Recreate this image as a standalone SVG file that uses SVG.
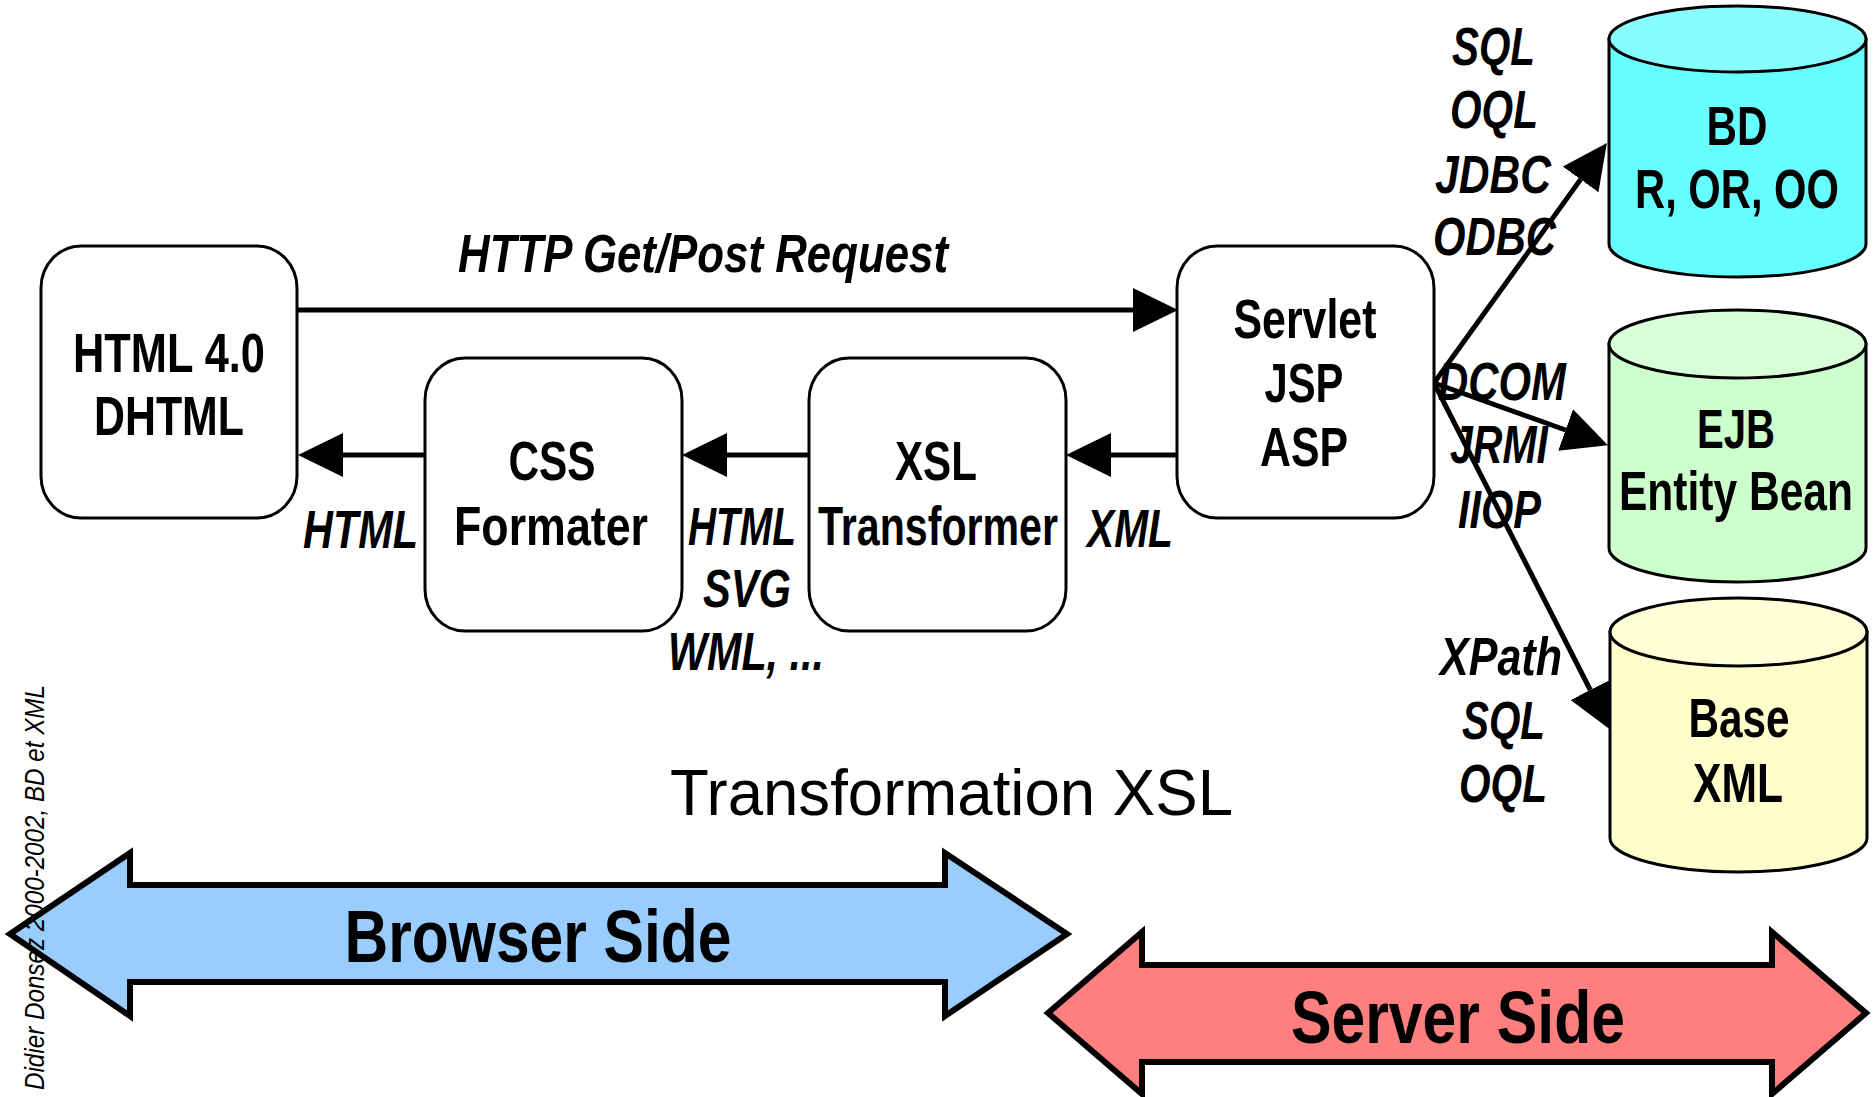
<svg xmlns="http://www.w3.org/2000/svg" width="1874" height="1097" viewBox="0 0 1874 1097">
<style>
.box{fill:#fff;stroke:#000;stroke-width:3}
.conn{stroke:#000;stroke-width:5;fill:none}
.cyl{stroke:#000;stroke-width:3}
.big{stroke:#000;stroke-width:6;stroke-linejoin:miter}
.node{font-family:'Liberation Sans Narrow','Arial Narrow','Liberation Sans',Arial,sans-serif;font-weight:bold;font-size:56px;text-anchor:middle;fill:#000}
.lbl{font-family:'Liberation Sans Narrow','Arial Narrow','Liberation Sans',Arial,sans-serif;font-weight:bold;font-style:italic;font-size:54px;fill:#000}
.side{font-family:'Liberation Sans Narrow','Arial Narrow','Liberation Sans',Arial,sans-serif;font-weight:bold;font-size:75px;text-anchor:middle;fill:#000}
.title{font-family:'Liberation Sans',Arial,sans-serif;font-size:64px;fill:#000}
.copy{font-family:'Liberation Sans',Arial,sans-serif;font-style:italic;font-size:28px;fill:#000}
</style>
<defs>
<marker id="ah" markerUnits="userSpaceOnUse" viewBox="0 0 45 44" markerWidth="45" markerHeight="44" refX="0" refY="22" orient="auto"><path d="M0,0 L45,22 L0,44 Z" fill="#000"/></marker>
</defs>

<g id="browser-side">
<polygon class="big" fill="#99CCFF" points="10,934 130,853 130,885 945,885 945,853 1067,934 945,1016 945,982 130,982 130,1016"/>
<text class="side" x="538" y="962" textLength="387" lengthAdjust="spacingAndGlyphs">Browser Side</text>
</g>
<g id="server-side">
<polygon class="big" fill="#FF7F7F" points="1048,1013 1142,932 1142,965 1772,965 1772,932 1866,1013 1772,1094 1772,1062 1142,1062 1142,1094"/>
<text class="side" x="1458" y="1043" textLength="334" lengthAdjust="spacingAndGlyphs">Server Side</text>
</g>

<g id="connectors">
<path class="conn" d="M297,310 H1133" marker-end="url(#ah)"/>
<path class="conn" d="M1177,455 H1111" marker-end="url(#ah)"/>
<path class="conn" d="M809,455 H727" marker-end="url(#ah)"/>
<path class="conn" d="M425,455 H343" marker-end="url(#ah)"/>
<path class="conn" d="M1434,383 L1580.6,179.4" marker-end="url(#ah)"/>
<path class="conn" d="M1434,383 L1565.6,430" marker-end="url(#ah)"/>
<path class="conn" d="M1434,383 L1590.3,690" marker-end="url(#ah)"/>
</g>

<g id="node-html">
<rect class="box" x="41" y="246" width="256" height="272" rx="40" ry="42"/>
<text class="node" x="169" y="372" textLength="192" lengthAdjust="spacingAndGlyphs">HTML 4.0</text>
<text class="node" x="169" y="435" textLength="150" lengthAdjust="spacingAndGlyphs">DHTML</text>
</g>
<g id="node-css">
<rect class="box" x="425" y="358" width="257" height="273" rx="40" ry="42"/>
<text class="node" x="552" y="480" textLength="87" lengthAdjust="spacingAndGlyphs">CSS</text>
<text class="node" x="551" y="545" textLength="194" lengthAdjust="spacingAndGlyphs">Formater</text>
</g>
<g id="node-xsl">
<rect class="box" x="809" y="358" width="257" height="273" rx="40" ry="42"/>
<text class="node" x="936" y="480" textLength="82" lengthAdjust="spacingAndGlyphs">XSL</text>
<text class="node" x="938" y="545" textLength="240" lengthAdjust="spacingAndGlyphs">Transformer</text>
</g>
<g id="node-servlet">
<rect class="box" x="1177" y="246" width="257" height="272" rx="40" ry="42"/>
<text class="node" x="1305" y="338" textLength="143" lengthAdjust="spacingAndGlyphs">Servlet</text>
<text class="node" x="1304" y="402" textLength="79" lengthAdjust="spacingAndGlyphs">JSP</text>
<text class="node" x="1304" y="466" textLength="88" lengthAdjust="spacingAndGlyphs">ASP</text>
</g>

<g id="node-bd">
<path class="cyl" fill="#66FFFF" d="M1609,39 V244 A128.5,33 0 0 0 1866,244 V39 Z"/>
<ellipse class="cyl" fill="#88FFFF" cx="1737.5" cy="39" rx="128.5" ry="33"/>
<text class="node" x="1737" y="145" textLength="61" lengthAdjust="spacingAndGlyphs">BD</text>
<text class="node" x="1737" y="208" textLength="204" lengthAdjust="spacingAndGlyphs">R, OR, OO</text>
</g>
<g id="node-ejb">
<path class="cyl" fill="#CCFFCC" d="M1609,344 V548 A128.5,34 0 0 0 1866,548 V344 Z"/>
<ellipse class="cyl" fill="#D8FFD8" cx="1737.5" cy="344" rx="128.5" ry="34"/>
<text class="node" x="1736" y="448" textLength="78" lengthAdjust="spacingAndGlyphs">EJB</text>
<text class="node" x="1736" y="510" textLength="234" lengthAdjust="spacingAndGlyphs">Entity Bean</text>
</g>
<g id="node-basexml">
<path class="cyl" fill="#FFFFCC" d="M1610,632 V838 A128.5,34 0 0 0 1867,838 V632 Z"/>
<ellipse class="cyl" fill="#FFFFD8" cx="1738.5" cy="632" rx="128.5" ry="34"/>
<text class="node" x="1739" y="737" textLength="101" lengthAdjust="spacingAndGlyphs">Base</text>
<text class="node" x="1738" y="802" textLength="90" lengthAdjust="spacingAndGlyphs">XML</text>
</g>

<g id="labels">
<text class="lbl" x="458" y="272" textLength="490" lengthAdjust="spacingAndGlyphs">HTTP Get/Post Request</text>
<text class="lbl" x="303" y="548" textLength="115" lengthAdjust="spacingAndGlyphs">HTML</text>
<text class="lbl" x="688" y="545" textLength="108" lengthAdjust="spacingAndGlyphs">HTML</text>
<text class="lbl" x="703" y="607" textLength="88" lengthAdjust="spacingAndGlyphs">SVG</text>
<text class="lbl" x="668" y="670" textLength="156" lengthAdjust="spacingAndGlyphs">WML, ...</text>
<text class="lbl" x="1087" y="547" textLength="86" lengthAdjust="spacingAndGlyphs">XML</text>
<text class="lbl" x="1452" y="65" textLength="83" lengthAdjust="spacingAndGlyphs">SQL</text>
<text class="lbl" x="1450" y="128" textLength="88" lengthAdjust="spacingAndGlyphs">OQL</text>
<text class="lbl" x="1435" y="193" textLength="116" lengthAdjust="spacingAndGlyphs">JDBC</text>
<text class="lbl" x="1433" y="255" textLength="123" lengthAdjust="spacingAndGlyphs">ODBC</text>
<text class="lbl" x="1438" y="400" textLength="128" lengthAdjust="spacingAndGlyphs">DCOM</text>
<text class="lbl" x="1450" y="463" textLength="98" lengthAdjust="spacingAndGlyphs">JRMI</text>
<text class="lbl" x="1458" y="528" textLength="83" lengthAdjust="spacingAndGlyphs">IIOP</text>
<text class="lbl" x="1440" y="675" textLength="122" lengthAdjust="spacingAndGlyphs">XPath</text>
<text class="lbl" x="1462" y="739" textLength="83" lengthAdjust="spacingAndGlyphs">SQL</text>
<text class="lbl" x="1459" y="802" textLength="88" lengthAdjust="spacingAndGlyphs">OQL</text>
</g>

<text class="title" x="670" y="815" textLength="563" lengthAdjust="spacingAndGlyphs">Transformation XSL</text>
<text class="copy" transform="translate(44,1090) rotate(-90)" x="0" y="0" textLength="405" lengthAdjust="spacingAndGlyphs">Didier Donsez 2000-2002,  BD et XML</text>
</svg>
